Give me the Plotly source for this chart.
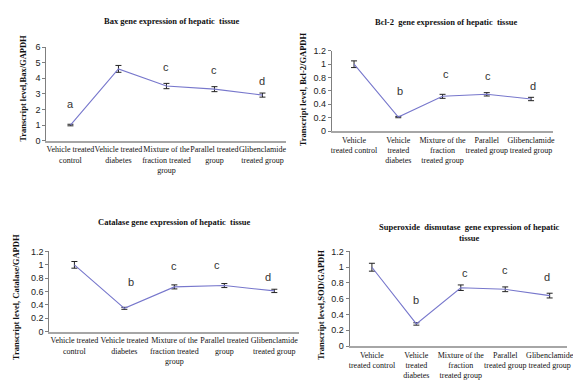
import plotly.graph_objects as go

W, H = 573, 380

# ---------------- data ----------------
labels_a = ["Vehicle treated<br>control", "Vehicle treated<br>diabetes",
            "Mixture of the<br>fraction treated<br>group", "Parallel treated<br>group",
            "Glibenclamide<br>treated group"]
labels_b = ["Vehicle<br>treated control", "Vehicle<br>treated<br>diabetes",
            "Mixture of the<br>fraction<br>treated group", "Parallel<br>treated group",
            "Glibenclamide<br>treated group"]

bax_mean = [1.0, 4.6, 3.5, 3.3, 2.92]
bax_err = [0.05, 0.22, 0.17, 0.16, 0.13]
bax_letters = ["a", "b", "c", "c", "d"]
bax_letter_y = [2.35, 6.3, 4.7, 4.5, 3.8]

bcl_mean = [1.0, 0.21, 0.52, 0.55, 0.48]
bcl_err = [0.05, 0.01, 0.03, 0.025, 0.025]
bcl_letters = ["a", "b", "c", "c", "d"]
bcl_letter_y = [1.41, 0.6, 0.86, 0.82, 0.67]

cat_mean = [1.0, 0.35, 0.67, 0.69, 0.61]
cat_err = [0.05, 0.015, 0.03, 0.03, 0.025]
cat_letters = ["a", "b", "c", "c", "d"]
cat_letter_y = [1.28, 0.75, 0.98, 0.99, 0.82]

sod_mean = [1.0, 0.28, 0.74, 0.72, 0.64]
sod_err = [0.05, 0.015, 0.035, 0.03, 0.03]
sod_letters = ["", "b", "c", "c", "d"]
sod_letter_y = [1.3, 0.59, 0.93, 0.96, 0.87]

titles = ["Bax gene expression of hepatic  tissue",
          "Bcl-2  gene expression of hepatic  tissue",
          "Catalase gene expression of hepatic  tissue",
          "Superoxide  dismutase  gene expression of hepatic<br>tissue"]
ytitles = ["Transcript level,Bax/GAPDH", "Transcript level, Bcl-2/GAPDH",
           "Transcript level, Catalase/GAPDH", "Transcript level,SOD/GAPDH"]

# ---------------- layout helpers (pixel boxes) ----------------
panels = [
    dict(x0=46, x1=289, yt=44, yb=142, xr=[-0.5, 4.5], yr=[0, 6], dt=1,
         mean=bax_mean, err=bax_err, lab=labels_a, let=bax_letters, ly=bax_letter_y,
         lshift=[0, 4, 0, 0, 0], title_xy=(173, 17), yt_xy=(22, 87)),
    dict(x0=335, x1=559, yt=48, yb=132, xr=[-0.5, 4.5], yr=[0, 1.2], dt=0.2,
         mean=bcl_mean, err=bcl_err, lab=labels_b, let=bcl_letters, ly=bcl_letter_y,
         lshift=[0, 2, 3, 1, 2], title_xy=(451, 18), yt_xy=(306, 88)),
    dict(x0=49, x1=302, yt=258, yb=342, xr=[-0.5, 4.5], yr=[0, 1.2], dt=0.2,
         mean=cat_mean, err=cat_err, lab=labels_a, let=cat_letters, ly=cat_letter_y,
         lshift=[0, 7, 0, -7, -6], title_xy=(176, 227), yt_xy=(15, 306)),
    dict(x0=353, x1=573, yt=258, yb=357, xr=[-0.5, 4.39], yr=[0, 1.2], dt=0.2,
         mean=sod_mean, err=sod_err, lab=labels_b, let=sod_letters, ly=sod_letter_y,
         lshift=[0, 0, 4, 0, -3], title_xy=(474, 238), yt_xy=(324, 314)),
]

fig = go.Figure()
annotations = []
LINE = "#7777cc"
SERIF = "Liberation Serif"
SANS = "Liberation Sans"

for i, p in enumerate(panels):
    n = "" if i == 0 else str(i + 1)
    xa, ya = "x" + n, "y" + n
    cats = list(range(len(p["mean"])))
    fig.add_trace(go.Scatter(
        x=cats, y=p["mean"], mode="lines", xaxis=xa, yaxis=ya,
        line=dict(color=LINE, width=1.1),
        error_y=dict(type="data", array=p["err"], color="#222222", thickness=1, width=3),
        showlegend=False, hoverinfo="skip"))
    xdom = [p["x0"] / W, p["x1"] / W]
    ydom = [1 - p["yb"] / H, 1 - p["yt"] / H]
    fig.layout["xaxis" + n] = dict(
        domain=xdom, range=p["xr"], anchor=ya, tickmode="array", tickvals=cats,
        ticktext=p["lab"], showgrid=False, zeroline=False, showline=True,
        linecolor="#a6a6a6", linewidth=2, ticks="", tickangle=0,
        ticklabeloverflow="allow",
        tickfont=dict(family=SERIF, size=8, color="#111111"), fixedrange=True)
    fig.layout["yaxis" + n] = dict(
        domain=ydom, range=p["yr"], anchor=xa, dtick=p["dt"], tick0=0,
        showgrid=False, zeroline=False, showline=True, linecolor="#7f7f7f",
        linewidth=1, ticks="outside", ticklen=3, tickcolor="#7f7f7f",
        tickfont=dict(family=SANS, size=9, color="#222222"), fixedrange=True)
    for c, (lt, ly, sh) in enumerate(zip(p["let"], p["ly"], p["lshift"])):
        if lt:
            annotations.append(dict(x=c, y=ly, xref=xa, yref=ya, text=lt, showarrow=False,
                                    xshift=sh, font=dict(family=SANS, size=11, color="#333333")))
    tx, ty = p["title_xy"]
    annotations.append(dict(x=tx / W, y=1 - ty / H, xref="paper", yref="paper",
                            text="<b>" + titles[i] + "</b>", showarrow=False,
                            xanchor="center", yanchor="middle",
                            font=dict(family=SERIF, size=8.5, color="#111111")))
    yx, yy = p["yt_xy"]
    annotations.append(dict(x=yx / W, y=1 - yy / H, xref="paper", yref="paper",
                            text="<b>" + ytitles[i] + "</b>", showarrow=False, textangle=-90,
                            xanchor="center", yanchor="middle",
                            font=dict(family=SERIF, size=8.5, color="#111111")))

fig.update_layout(width=W, height=H, margin=dict(l=0, r=0, t=0, b=0),
                  paper_bgcolor="white", plot_bgcolor="white",
                  annotations=annotations, showlegend=False)
fig.write_html("out.html", config={"displayModeBar": False})
